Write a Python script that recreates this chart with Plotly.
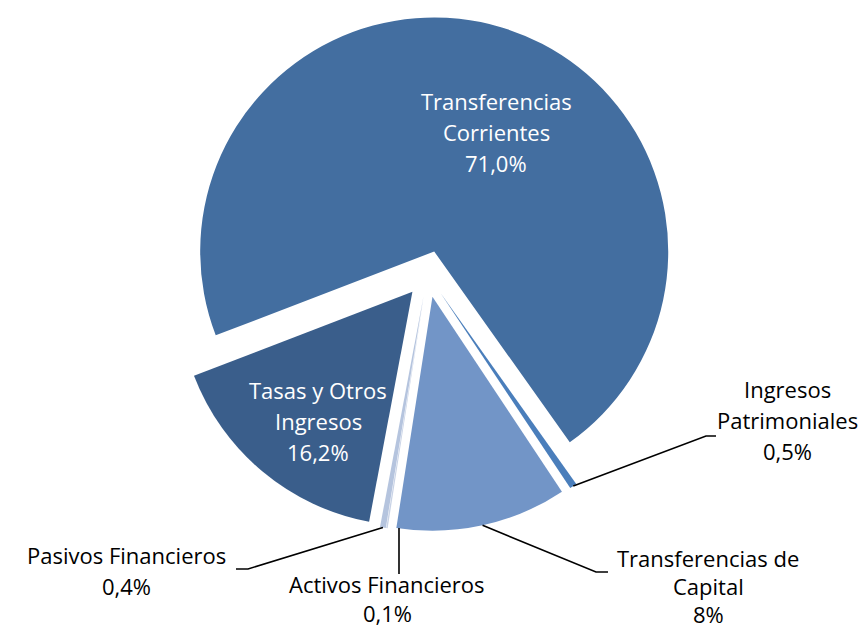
import math
import plotly.graph_objects as go

# ---- data ----
categories = ["Transferencias<br>Corrientes", "Ingresos<br>Patrimoniales",
              "Transferencias de<br>Capital", "Activos Financieros",
              "Pasivos Financieros", "Tasas y Otros<br>Ingresos"]
values = [71.0, 0.5, 11.8, 0.1, 0.4, 16.2]
pct_labels = ["71,0%", "0,5%", "8%", "0,1%", "0,4%", "16,2%"]

# ---- style ----
colors = ["#436EA0", "#4A7EBB", "#7295C7", "#C9D3E6", "#B5C4DE", "#3A5E8B"]
W, H = 866, 628
dom_x = [0.1871, 0.7816]
dom_y = [0.1666, 0.9866]
pull = 0.1
rotation = 249
FONT = "Open Sans"
FS = 22
TEXT_DY = -8  # px correction between text box middle and glyph middle

fig = go.Figure(go.Pie(
    labels=[c.replace("<br>", " ") for c in categories],
    values=values,
    sort=False,
    direction="clockwise",
    rotation=rotation,
    pull=[pull] * len(values),
    marker=dict(colors=colors, line=dict(width=0)),
    textinfo="none",
    hoverinfo="label+percent",
    domain=dict(x=dom_x, y=dom_y),
    showlegend=False,
))

# geometry (same as plotly's pie layout) to find slice edge midpoints
r = min(W * (dom_x[1] - dom_x[0]), H * (dom_y[1] - dom_y[0])) / (2 + 2 * pull)
cx = W * (dom_x[0] + dom_x[1]) / 2
cy = H * (1 - (dom_y[0] + dom_y[1]) / 2)
total = sum(values)
mids = []
acc = 0
for v in values:
    a = math.radians(rotation + (acc + v / 2) / total * 360)
    mids.append(a)
    acc += v


def edge_point(i):
    a = mids[i]
    dx, dy = math.sin(a), -math.cos(a)
    return (cx + dx * r * (1 + pull), cy + dy * r * (1 + pull))


def px2paper(x, y):
    return x / W, 1 - y / H


# label layout: index -> (center x px, first line y px, line spacing, text colour)
label_pos = {
    0: (488, 101, 31, "white"),
    5: (310, 390, 31, "white"),
    1: (779, 389, 31, "black"),
    2: (700, 558, 28, "black"),
    4: (118, 555, 31, "black"),
    3: (379, 584, 29, "black"),
}
annotations = []
for i, (lx, ly, sp, col) in label_pos.items():
    lines = categories[i].split("<br>") + [pct_labels[i]]
    for k, t in enumerate(lines):
        px, py = px2paper(lx, ly + k * sp + TEXT_DY)
        annotations.append(dict(
            x=px, y=py, xref="paper", yref="paper", text=t, showarrow=False,
            xanchor="center", yanchor="middle",
            font=dict(family=FONT, size=FS, color=col)))

# leader lines: index -> list of elbow/end points in px
leaders = {
    1: [(698, 428), (708, 428)],
    2: [(588, 564), (600, 564)],
    3: [(391, 566)],
    4: [(240, 561), (228, 561)],
}
shapes = []
for i, pts in leaders.items():
    ax, ay = edge_point(i)
    if i == 3:
        ax = pts[0][0]
    allp = [(ax, ay)] + pts
    path = ""
    for k, (x, y) in enumerate(allp):
        qx, qy = px2paper(x, y)
        path += ("M" if k == 0 else " L") + f"{qx:.5f},{qy:.5f}"
    shapes.append(dict(type="path", path=path, xref="paper", yref="paper",
                       line=dict(color="black", width=1.6)))

fig.update_layout(
    width=W, height=H,
    margin=dict(l=0, r=0, t=0, b=0),
    paper_bgcolor="white",
    plot_bgcolor="white",
    annotations=annotations,
    shapes=shapes,
)

fig.write_html("out.html")
